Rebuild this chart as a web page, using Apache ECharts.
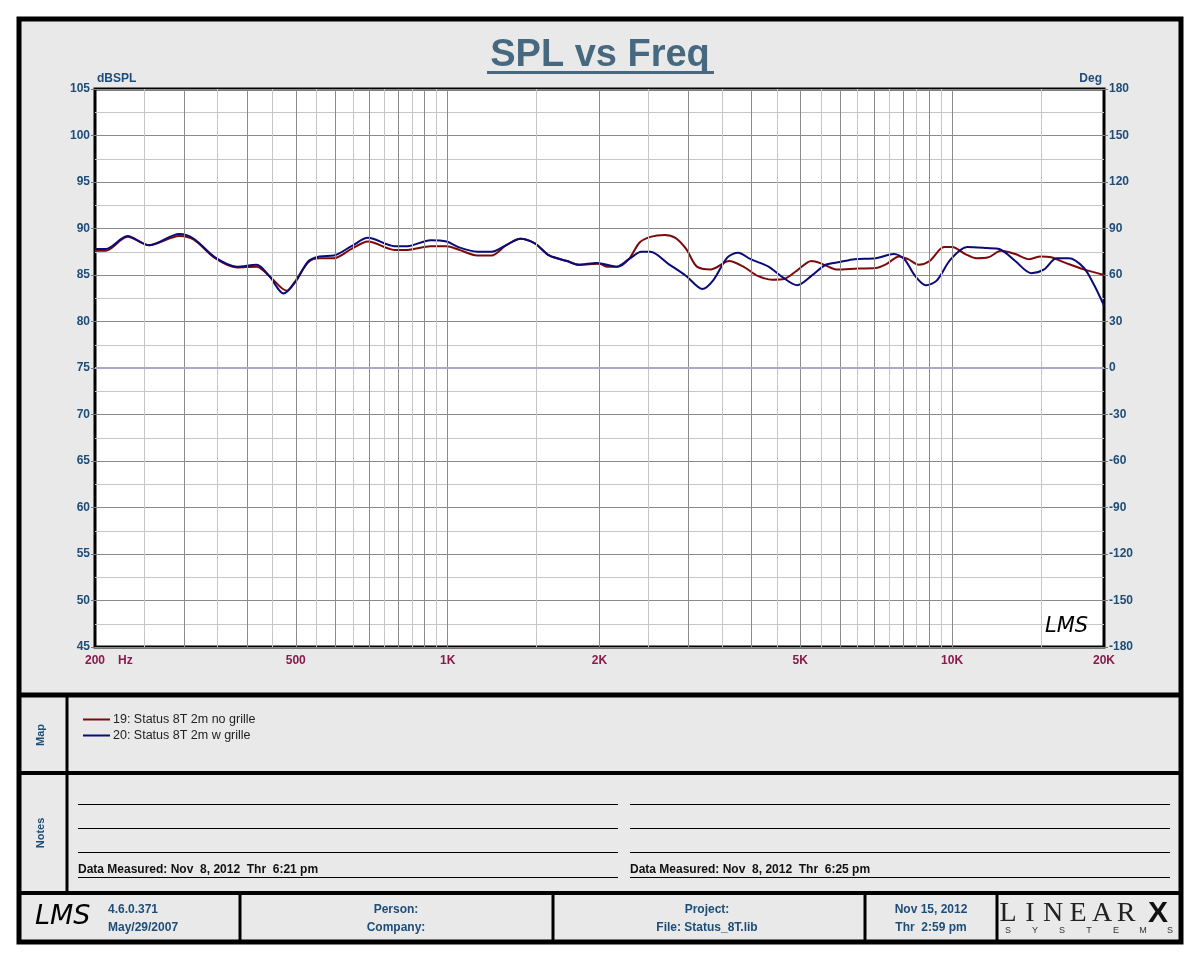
<!DOCTYPE html>
<html lang="en">
<head>
    <meta charset="UTF-8">
    <title>SPL vs Freq</title>
    <style>
        body { margin: 0; background: #fff; }
    </style>
</head>
<body>
    <div id="chartDiv" style="width: 1200px;height:960px;"></div>
</body>
<script type="text/javascript" src="https://cdn.jsdelivr.net/npm/echarts@6/dist/echarts.min.js"></script>
<script type="text/javascript">
    // curve 19: no grille
    var freqNoGrille = [200, 210, 232, 256, 294, 314, 346, 382, 418, 443, 480, 497, 530, 557, 595, 645, 695, 785, 832, 925,
        995, 1054, 1145, 1222, 1306, 1394, 1489, 1589, 1725, 1820, 2000, 2073, 2178, 2287, 2402, 2523, 2692, 2828, 2970, 3120,
        3328, 3614, 3857, 4118, 4396, 4656, 4932, 5261, 5525, 5896, 6508, 7058, 7418, 7853, 8181, 8592, 9021, 9640, 10000, 10620,
        11160, 11800, 12500, 13340, 14220, 14970, 15720, 16780, 18220, 20000];
    var splNoGrille = [87.6, 87.6, 89.1, 88.2, 89.2, 88.8, 86.8, 85.8, 85.9, 84.9, 83.3, 84.2, 86.4, 86.8, 86.8, 87.8, 88.6, 87.7, 87.7, 88.1,
        88.1, 87.7, 87.1, 87.1, 88.2, 88.9, 88.4, 87.1, 86.5, 86.1, 86.2, 85.9, 85.9, 86.7, 88.5, 89.1, 89.3, 89.0, 87.8, 85.9,
        85.6, 86.5, 85.9, 84.9, 84.5, 84.6, 85.5, 86.5, 86.2, 85.6, 85.7, 85.75, 86.2, 87.0, 86.7, 86.1, 86.5, 88.0, 88.0, 87.25,
        86.8, 86.9, 87.6, 87.25, 86.7, 87.0, 86.9, 86.3, 85.6, 85.0];

    // curve 20: with grille
    var freqGrille = [200, 210, 232, 256, 294, 314, 346, 382, 418, 443, 473, 500, 530, 557, 595, 645, 695, 785, 832, 925,
        995, 1054, 1145, 1222, 1306, 1394, 1489, 1589, 1725, 1820, 1975, 2160, 2287, 2422, 2523, 2738, 2970, 3198, 3357, 3586,
        3766, 3987, 4326, 4616, 4932, 5261, 5615, 5995, 6404, 7058, 7660, 8040, 8447, 8870, 9320, 9940, 10710, 11710, 12400, 13340,
        14350, 15220, 16100, 17030, 18220, 19130, 20000];
    var splGrille = [87.8, 87.8, 89.2, 88.2, 89.4, 88.9, 86.9, 85.9, 86.1, 84.9, 83.0, 84.3, 86.5, 87.0, 87.1, 88.1, 89.0, 88.1, 88.1, 88.75,
        88.6, 87.96, 87.5, 87.5, 88.2, 88.9, 88.4, 87.1, 86.5, 86.1, 86.3, 85.9, 86.7, 87.5, 87.5, 86.2, 84.9, 83.5, 84.4, 86.9,
        87.4, 86.7, 85.9, 84.75, 83.9, 84.9, 86.1, 86.4, 86.7, 86.8, 87.25, 86.7, 84.9, 83.9, 84.4, 86.7, 88.0, 87.9, 87.8, 86.5,
        85.2, 85.6, 86.8, 86.8, 85.8, 83.9, 81.7];

    var seriesNames = ['19: Status 8T 2m no grille', '20: Status 8T 2m w grille'];

    // x axis labels and grid lines
    var xLabelValues = [200, 500, 1000, 2000, 5000, 10000, 20000];
    var xLabelText = ['200', '500', '1K', '2K', '5K', '10K', '20K'];
    var majorGridFreqs = [300, 400, 500, 600, 700, 800, 900, 1000, 2000, 3000, 4000, 5000, 6000, 7000, 8000, 9000, 10000];
    var minorGridFreqs = [250, 350, 450, 550, 650, 750, 850, 950, 1500, 2500, 3500, 4500, 5500, 6500, 7500, 8500, 9500, 15000];
    var zeroPhaseDb = 75;

    function pairs(xs, ys) {
        return xs.map(function (x, i) { return [x, ys[i]]; });
    }

    var myChart = echarts.init(document.getElementById('chartDiv'));

    var font = 'Liberation Sans, Arial, sans-serif';
    var blueText = '#1d4d78';
    var majorGrid = '#8a8a8a';
    var minorGrid = '#c6c6c6';

    var gridLines = [];
    majorGridFreqs.forEach(function (f) {
        gridLines.push({ xAxis: f, lineStyle: { color: majorGrid, width: 1, type: 'solid' } });
    });
    minorGridFreqs.forEach(function (f) {
        gridLines.push({ xAxis: f, lineStyle: { color: minorGrid, width: 1, type: 'solid' } });
    });
    gridLines.push({ yAxis: zeroPhaseDb, lineStyle: { color: '#a9a9cf', width: 2, type: 'solid' } });

    // frame, separators and texts
    var g = [];
    g.push({ type: 'rect', z: -10, shape: { x: 19, y: 19, width: 1162, height: 923 },
        style: { fill: '#e9e9e9', stroke: '#000', lineWidth: 5 } });
    [[695, 5], [773, 4], [893, 4]].forEach(function (s) {
        g.push({ type: 'line', z: 50, shape: { x1: 19, y1: s[0], x2: 1181, y2: s[0] }, style: { stroke: '#000', lineWidth: s[1] } });
    });
    g.push({ type: 'line', z: 50, shape: { x1: 67, y1: 695, x2: 67, y2: 893 }, style: { stroke: '#000', lineWidth: 3 } });
    [240, 553, 865, 997].forEach(function (x) {
        g.push({ type: 'line', z: 50, shape: { x1: x, y1: 893, x2: x, y2: 942 }, style: { stroke: '#000', lineWidth: 3 } });
    });
    [804.5, 828.5, 852.5, 877.5].forEach(function (y) {
        g.push({ type: 'line', z: 50, shape: { x1: 78, y1: y, x2: 618, y2: y }, style: { stroke: '#000', lineWidth: 1 } });
        g.push({ type: 'line', z: 50, shape: { x1: 630, y1: y, x2: 1170, y2: y }, style: { stroke: '#000', lineWidth: 1 } });
    });

    // title
    g.push({ type: 'text', z: 50, x: 600, y: 56, style: { text: 'SPL vs Freq', fill: '#46697f', font: 'bold 38px ' + font,
        textAlign: 'center', textVerticalAlign: 'middle' } });
    g.push({ type: 'line', z: 50, shape: { x1: 487, y1: 72.5, x2: 714, y2: 72.5 }, style: { stroke: '#46697f', lineWidth: 3 } });

    g.push({ type: 'text', z: 50, x: 118, y: 661, style: { text: 'Hz', fill: '#8a1a4a', font: 'bold 12px ' + font,
        textVerticalAlign: 'middle' } });
    g.push({ type: 'text', z: 50, x: 1045, y: 616, style: { text: 'LMS', fill: '#000', font: 'italic 21px DejaVu Sans, sans-serif' } });

    // side labels
    g.push({ type: 'text', z: 50, x: 41, y: 735, rotation: Math.PI / 2, style: { text: 'Map', fill: blueText,
        font: 'bold 11px ' + font, textAlign: 'center', textVerticalAlign: 'middle' } });
    g.push({ type: 'text', z: 50, x: 41, y: 833, rotation: Math.PI / 2, style: { text: 'Notes', fill: blueText,
        font: 'bold 11px ' + font, textAlign: 'center', textVerticalAlign: 'middle' } });

    g.push({ type: 'text', z: 50, x: 78, y: 870, style: { text: 'Data Measured: Nov  8, 2012  Thr  6:21 pm', fill: '#111',
        font: 'bold 12px ' + font, textVerticalAlign: 'middle' } });
    g.push({ type: 'text', z: 50, x: 630, y: 870, style: { text: 'Data Measured: Nov  8, 2012  Thr  6:25 pm', fill: '#111',
        font: 'bold 12px ' + font, textVerticalAlign: 'middle' } });

    // footer
    g.push({ type: 'text', z: 50, x: 35, y: 903, style: { text: 'LMS', fill: '#000', font: 'italic 27px DejaVu Sans, sans-serif' } });
    [[108, 910, '4.6.0.371', 'left'], [108, 928, 'May/29/2007', 'left'],
        [396, 910, 'Person:', 'center'], [396, 928, 'Company:', 'center'],
        [707, 910, 'Project:', 'center'], [707, 928, 'File: Status_8T.lib', 'center'],
        [931, 910, 'Nov 15, 2012', 'center'], [931, 928, 'Thr  2:59 pm', 'center']].forEach(function (t) {
        g.push({ type: 'text', z: 50, x: t[0], y: t[1], style: { text: t[2], fill: blueText, font: 'bold 12px ' + font,
            textAlign: t[3], textVerticalAlign: 'middle' } });
    });
    [[1008, 'L'], [1030, 'I'], [1053, 'N'], [1078, 'E'], [1102, 'A'], [1126, 'R']].forEach(function (t) {
        g.push({ type: 'text', z: 50, x: t[0], y: 914, style: { text: t[1], fill: '#222', font: '28px Liberation Serif, serif',
            textAlign: 'center', textVerticalAlign: 'middle' } });
    });
    g.push({ type: 'text', z: 50, x: 1158, y: 914, style: { text: 'X', fill: '#111', font: 'bold 30px ' + font,
        textAlign: 'center', textVerticalAlign: 'middle' } });
    ['S', 'Y', 'S', 'T', 'E', 'M', 'S'].forEach(function (c, i) {
        g.push({ type: 'text', z: 50, x: 1008 + i * 27, y: 931, style: { text: c, fill: '#333', font: '9px ' + font,
            textAlign: 'center', textVerticalAlign: 'middle' } });
    });

    var option = {
        animation: false,
        graphic: { elements: g },
        legend: {
            left: 78, top: 708, orient: 'vertical', itemGap: 3,
            icon: 'rect', itemWidth: 27, itemHeight: 2,
            textStyle: { fontFamily: font, fontSize: 12.5, color: '#222', padding: [0, 0, 0, -2] },
            data: seriesNames
        },
        grid: {
            left: 95, top: 89, width: 1009, height: 558,
            show: true, backgroundColor: '#fff', borderColor: '#000', borderWidth: 3
        },
        xAxis: {
            type: 'log', logBase: 10, min: 200, max: 20000,
            axisLine: { show: false },
            axisTick: { show: false },
            splitLine: { show: false },
            axisLabel: {
                customValues: xLabelValues,
                margin: 8,
                color: '#8a1a4a', fontWeight: 'bold', fontSize: 12, fontFamily: font,
                formatter: function (v) {
                    var i = xLabelValues.indexOf(Math.round(v));
                    return i >= 0 ? xLabelText[i] : '';
                }
            }
        },
        yAxis: [{
            type: 'value', min: 45, max: 105, interval: 5,
            name: 'dBSPL', nameLocation: 'end', nameGap: 4,
            nameTextStyle: { align: 'left', color: blueText, fontWeight: 'bold', fontSize: 12, fontFamily: font, padding: [0, 0, 0, 2] },
            axisLine: { show: false },
            axisTick: { show: true, length: 4, lineStyle: { color: '#777' } },
            axisLabel: { margin: 5, color: blueText, fontWeight: 'bold', fontSize: 12, fontFamily: font },
            splitLine: { show: true, lineStyle: { color: majorGrid } },
            minorTick: { show: false, splitNumber: 2 },
            minorSplitLine: { show: true, lineStyle: { color: minorGrid } }
        }, {
            type: 'value', min: -180, max: 180, interval: 30, position: 'right',
            name: 'Deg', nameLocation: 'end', nameGap: 4,
            nameTextStyle: { align: 'right', color: blueText, fontWeight: 'bold', fontSize: 12, fontFamily: font, padding: [0, 2, 0, 0] },
            axisLine: { show: false },
            axisTick: { show: true, length: 4, lineStyle: { color: '#777' } },
            axisLabel: { margin: 5, color: blueText, fontWeight: 'bold', fontSize: 12, fontFamily: font },
            splitLine: { show: false }
        }],
        series: [{
            type: 'line', data: [], z: 1, silent: true,
            markLine: { symbol: 'none', silent: true, label: { show: false }, animation: false, data: gridLines }
        }, {
            name: seriesNames[0], type: 'line', z: 3, smooth: 0.3, showSymbol: false,
            color: '#7d0a0a', lineStyle: { width: 2 },
            data: pairs(freqNoGrille, splNoGrille)
        }, {
            name: seriesNames[1], type: 'line', z: 4, smooth: 0.3, showSymbol: false,
            color: '#0a0a78', lineStyle: { width: 2 },
            data: pairs(freqGrille, splGrille)
        }]
    };

    myChart.setOption(option);
</script>
</html>
